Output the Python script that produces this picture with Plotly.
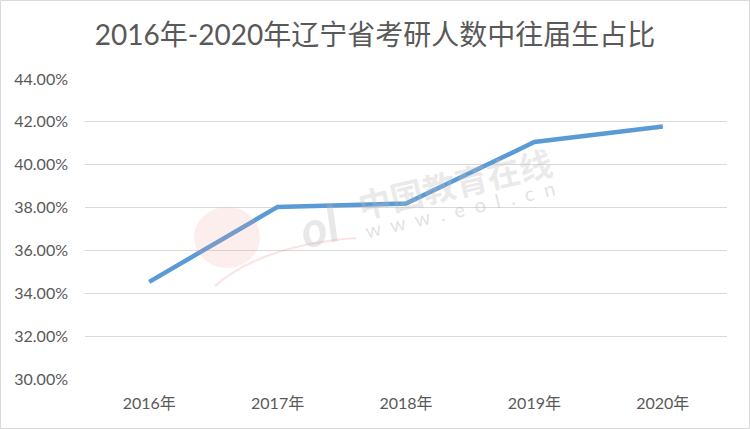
import plotly.graph_objects as go

years = ["2016年", "2017年", "2018年", "2019年", "2020年"]
share = [0.3453, 0.3803, 0.3819, 0.4106, 0.4178]
y_ticks = [0.30, 0.32, 0.34, 0.36, 0.38, 0.40, 0.42, 0.44]
title_text = "2016年-2020年辽宁省考研人数中往届生占比"

FONT = "Lato, 'Noto Sans CJK SC', sans-serif"
GREY = "#595959"

fig = go.Figure()
fig.add_trace(go.Scatter(
    x=years, y=share, mode="lines",
    line=dict(color="#5B9BD5", width=4.5),
    hoverinfo="x+y",
))

L, R, T, B = 85, 23, 79, 50
W, H = 750, 429
pw, ph = W - L - R, H - T - B

def px(xp):
    return (xp - L) / pw

def py(yp):
    return (H - B - yp) / ph

shapes = [
    dict(type="rect", xref="paper", yref="paper",
         x0=px(0.5), x1=px(W - 0.5), y0=py(H - 0.5), y1=py(0.5),
         line=dict(color="#D9D9D9", width=1), layer="below"),
    # watermark logo (pink disc + swoosh)
    dict(type="circle", xref="paper", yref="paper",
         x0=px(194), x1=px(260), y0=py(268), y1=py(207),
         fillcolor="rgba(245,160,160,0.18)", line=dict(width=0), layer="above"),
    dict(type="path", xref="paper", yref="paper",
         path=f"M {px(215)},{py(286)} Q {px(262)},{py(245)} {px(356)},{py(238)}",
         line=dict(color="rgba(245,160,160,0.3)", width=2), layer="above"),
]

fig.update_layout(
    width=W, height=H,
    margin=dict(l=L, r=R, t=T, b=B),
    paper_bgcolor="white", plot_bgcolor="white",
    showlegend=False,
    font=dict(family=FONT, color=GREY, size=16),
    title=dict(text=title_text, x=0.5, xanchor="center", y=1 - 35 / H, yanchor="middle",
               font=dict(size=28, color=GREY, family=FONT)),
    xaxis=dict(range=[-0.5, 4.5], showgrid=False, showline=False, zeroline=False, ticks="",
               tickfont=dict(size=16, color=GREY), ticklabelstandoff=13),
    yaxis=dict(range=[0.30, 0.44], tickvals=y_ticks, tickformat=".2%",
               showgrid=True, gridcolor="#D9D9D9", gridwidth=1.3,
               zeroline=False, showline=False, ticks="",
               tickfont=dict(size=16, color=GREY), ticklabelstandoff=16),
    shapes=shapes,
)

# faint watermark text
fig.add_annotation(text="<b><i>ol</i></b>", xref="paper", yref="paper",
                   x=px(290), y=py(226), showarrow=False, textangle=-15,
                   font=dict(size=50, color="rgba(180,180,180,0.3)", family=FONT))
fig.add_annotation(text="<b>中国教育在线</b>", xref="paper", yref="paper",
                   x=px(455), y=py(184), showarrow=False, textangle=-13,
                   font=dict(size=33, color="rgba(190,190,190,0.33)", family=FONT))
fig.add_annotation(text="w  w  w  .  e  o  l  .  c  n", xref="paper", yref="paper",
                   x=px(460), y=py(209), showarrow=False, textangle=-13,
                   font=dict(size=20, color="rgba(190,190,190,0.45)", family=FONT))

fig.write_html("out.html", config={"displayModeBar": False},
               post_script="document.body.style.margin='0';")
